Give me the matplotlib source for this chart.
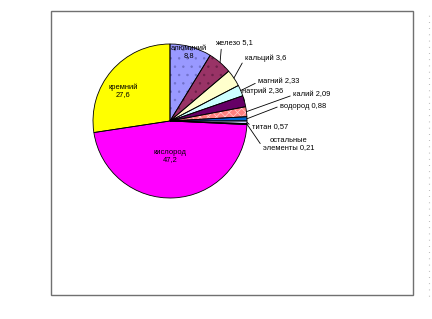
import numpy as np
import matplotlib
matplotlib.use("Agg")
import matplotlib.pyplot as plt
from matplotlib.patches import Rectangle

plt.rcParams['font.family'] = ['Liberation Sans', 'DejaVu Sans']
plt.rcParams['hatch.linewidth'] = 0.5

# elements of the earth's crust, %
names = ["алюминий", "железо", "кальций", "магний", "натрий", "калий",
         "водород", "титан", "остальные\nэлементы", "кислород", "кремний"]
values = [8.8, 5.1, 3.6, 2.33, 2.36, 2.09, 0.88, 0.57, 0.21, 47.2, 27.6]
value_text = ["8,8", "5,1", "3,6", "2,33", "2,36", "2,09", "0,88", "0,57", "0,21", "47,2", "27,6"]
colors = ["#9999FF", "#993366", "#FFFFCC", "#CCFFFF", "#660066", "#FF8080",
          "#0066CC", "#CCCCFF", "#000080", "#FF00FF", "#FFFF00"]
# pattern fills (Excel style)
hatches = {0: ("..", "#7070c8"), 1: ("..", "#6a2048"), 5: ("xxxx", "#ffd0d0")}

W, H = 432, 319
cx, cy, r = 170, H - 121, 77

fig = plt.figure(figsize=(W / 100, H / 100), dpi=100)
ax = fig.add_axes([0, 0, 1, 1])

# fill, hatch layer, then outlines on top
wedges, _ = ax.pie(values, colors=colors, startangle=90, counterclock=False,
                   center=(cx, cy), radius=r, frame=True,
                   wedgeprops=dict(linewidth=0))
over, _ = ax.pie(values, startangle=90, counterclock=False,
                 center=(cx, cy), radius=r, frame=True,
                 wedgeprops=dict(facecolor="none", linewidth=0))
for i, w in enumerate(over):
    if i in hatches:
        w.set_hatch(hatches[i][0])
        w.set_edgecolor(hatches[i][1])
    else:
        w.set_visible(False)
edges, _ = ax.pie(values, startangle=90, counterclock=False,
                  center=(cx, cy), radius=r, frame=True,
                  wedgeprops=dict(facecolor="none", edgecolor="black", linewidth=0.6))
ax.set_xlim(0, W)
ax.set_ylim(0, H)
ax.axis("off")

# chart frame
ax.add_patch(Rectangle((51, H - 295), 362, 284, fill=False,
                       edgecolor="#707070", linewidth=1.0))
# dotted column at the right edge
ax.plot([429, 429], [H - 296, H - 14], linestyle=(0, (0.6, 5)), color="#a0a0a0", lw=0.8)

fs = 5.4
# labels inside the slices
inside = {0: (189, 52), 10: (123, 91), 9: (170, 156)}
for i, (px, py) in inside.items():
    ax.text(px, H - py, names[i] + "\n" + value_text[i], ha="center", va="center",
            fontsize=fs, linespacing=1.1)

# labels outside with leader lines: (left x, centre y, start of leader on text box)
outside = {1: (215, 43, (0.17, 0)), 2: (245, 58, (0, 0.5)), 3: (258, 82, (0, 0.5)),
           4: (242, 91, (0, 0.5)), 5: (293, 95, (0, 0.5)), 6: (280, 106, (0, 0.5)),
           7: (252, 127, (0, 0.5)), 8: (263, 144, (0, 0.25))}
for i, (px, py, rel) in outside.items():
    w = wedges[i]
    mid = np.deg2rad((w.theta1 + w.theta2) / 2)
    ex, ey = cx + r * np.cos(mid), cy + r * np.sin(mid)
    ax.annotate(names[i] + " " + value_text[i], xy=(ex, ey), xytext=(px, H - py),
                ha="left", va="center", fontsize=fs, linespacing=1.1,
                multialignment="center",
                arrowprops=dict(arrowstyle="-", color="black", lw=0.6,
                                shrinkA=0, shrinkB=0, relpos=rel))

fig.savefig("out.png", dpi=100)
